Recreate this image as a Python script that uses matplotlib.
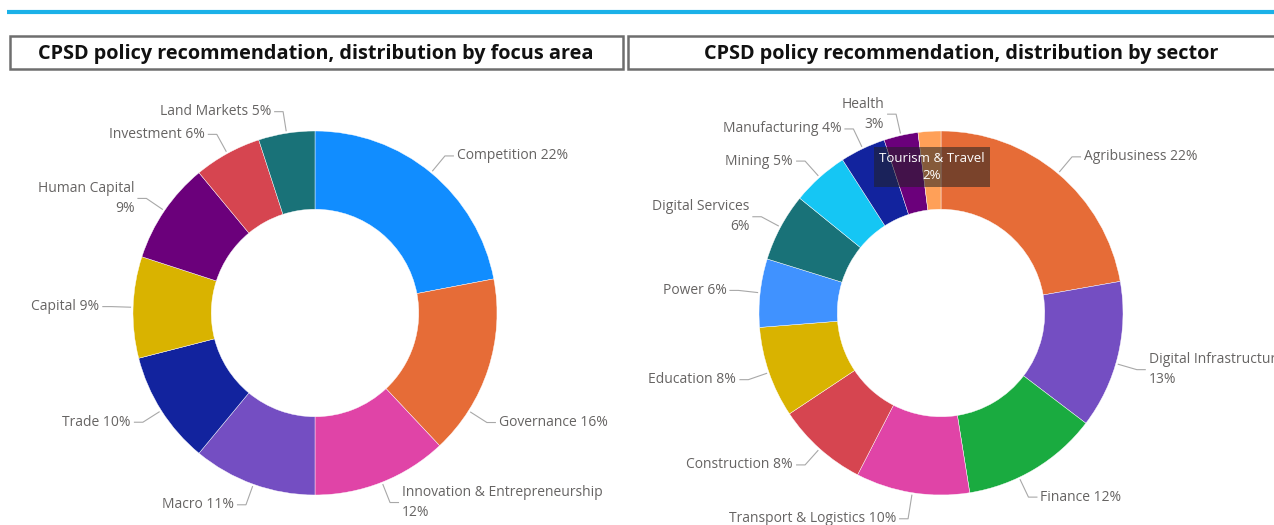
import numpy as np
import matplotlib
matplotlib.use('Agg')
import matplotlib.pyplot as plt
from matplotlib.patches import Rectangle

# donnees
focus_labels = ['Competition', 'Governance', 'Innovation & Entrepreneurship', 'Macro',
                'Trade', 'Capital', 'Human Capital', 'Investment', 'Land Markets']
focus_values = [22, 16, 12, 11, 10, 9, 9, 6, 5]
focus_colors = ['#118DFF', '#E66C37', '#E044A7', '#744EC2', '#12239E',
                '#D9B300', '#6B007B', '#D64550', '#197278']

sector_labels = ['Agribusiness', 'Digital Infrastructure', 'Finance', 'Transport & Logistics',
                 'Construction', 'Education', 'Power', 'Digital Services', 'Mining',
                 'Manufacturing', 'Health', 'Tourism & Travel']
sector_values = [22, 13, 12, 10, 8, 8, 6, 6, 5, 4, 3, 2]
sector_colors = ['#E66C37', '#744EC2', '#1AAB40', '#E044A7', '#D64550', '#D9B300',
                 '#4092FF', '#197278', '#15C6F4', '#12239E', '#6B007B', '#FFA058']

# mise en page
W, H = 1274, 525
R = 182
HOLE = 0.43
wrapped = {'Innovation & Entrepreneurship', 'Human Capital', 'Digital Services',
           'Digital Infrastructure', 'Health'}
angle_nudge = {'Governance': 14.5, 'Finance': 5.5, 'Digital Infrastructure': 2.5}
radius_fac = {'Transport & Logistics': 1.145}
LABEL_COLOR = '#666463'
FONT = 'Open Sans'

fig = plt.figure(figsize=(W / 100, H / 100), dpi=100)
ax = fig.add_axes([0, 0, 1, 1])


def donut(cx, cy, labels, values, colors, hidden=()):
    ax.pie(values, colors=colors, center=(cx, cy), radius=R, startangle=90,
           counterclock=False,
           wedgeprops=dict(width=R * HOLE, edgecolor='white', linewidth=0.3))
    total = float(sum(values))
    cum = 0.0
    for name, v in zip(labels, values):
        mid = (cum + v / 2.0) / total * 360.0
        cum += v
        if name in hidden:
            continue
        a = np.radians(mid + angle_nudge.get(name, 0))
        sx, sy = np.sin(a), np.cos(a)
        rf = radius_fac.get(name, 1.12)
        x0, y0 = cx + (R + 2) * sx, cy + (R + 2) * sy
        x1, y1 = cx + rf * R * sx, cy + rf * R * sy
        side = 1 if sx >= 0 else -1
        x2 = x1 + side * 9
        ax.plot([x0, x1, x2], [y0, y1, y1], color='#A8A8A8', lw=0.8,
                solid_capstyle='butt')
        pct = round(v / total * 100)
        sep = '\n' if name in wrapped else ' '
        ax.text(x2 + side * 3, y1, f'{name}{sep}{pct}%', color=LABEL_COLOR,
                fontsize=10, family=FONT, va='center',
                ha='left' if side > 0 else 'right', linespacing=1.45)


donut(315, H - 313, focus_labels, focus_values, focus_colors)
donut(941, H - 313, sector_labels, sector_values, sector_colors,
      hidden=('Tourism & Travel',))

# infobulle survolée
ax.text(941 - 9, H - 167, 'Tourism & Travel\n2%', color='white', fontsize=9.5,
        family=FONT, ha='center', va='center', linespacing=1.35,
        bbox=dict(boxstyle='square,pad=0.42', facecolor='#222222',
                  edgecolor='none', alpha=0.55))

# bandeau et titres
ax.plot([7, W], [H - 12, H - 12], color='#1BB1E8', lw=3, solid_capstyle='butt')
ax.add_patch(Rectangle((10, H - 69), 613, 33, facecolor='white',
                       edgecolor='#6E6E6E', lw=1.8))
ax.add_patch(Rectangle((628, H - 69), 700, 33, facecolor='white',
                       edgecolor='#6E6E6E', lw=1.8))
ax.text(316, H - 54, 'CPSD policy recommendation, distribution by focus area',
        fontsize=14.3, fontweight='bold', family=FONT, ha='center', va='center',
        color='#111111')
ax.text(961, H - 54, 'CPSD policy recommendation, distribution by sector',
        fontsize=14.3, fontweight='bold', family=FONT, ha='center', va='center',
        color='#111111')

ax.set_xlim(0, W)
ax.set_ylim(0, H)
ax.set_aspect('auto')
ax.axis('off')

fig.savefig('out.png', dpi=100, facecolor='white')
